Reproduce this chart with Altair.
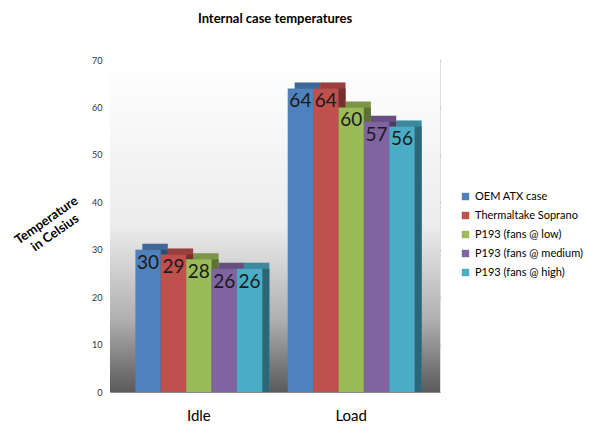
import altair as alt
import pandas as pd

categories = ["Idle", "Load"]
series = ["OEM ATX case", "Thermaltake Soprano", "P193 (fans @ low)",
          "P193 (fans @ medium)", "P193 (fans @ high)"]
idle_values = [30, 29, 28, 26, 26]
load_values = [64, 64, 60, 57, 56]
colors = ["#4F81BD", "#C0504D", "#9BBB59", "#8064A2", "#4BACC6"]
y_ticks = [0, 10, 20, 30, 40, 50, 60, 70]

rows = []
for cat, vals in zip(categories, [idle_values, load_values]):
    for s, v in zip(series, vals):
        rows.append({"category": cat, "series": s, "value": v,
                     "slot": f"{cat}|{s}"})
df = pd.DataFrame(rows)

# band domain: the five bars of each group, with one empty slot between groups
slot_domain = [f"{categories[0]}|{s}" for s in series] + ["gap"] + \
              [f"{categories[1]}|{s}" for s in series]
middle = series[2]

FONT = "Lato"

x_enc = alt.X("slot:N",
              scale=alt.Scale(domain=slot_domain, paddingInner=0, paddingOuter=1),
              axis=alt.Axis(title=None, labelAngle=0, labelFontSize=15,
                            labelPadding=16, ticks=False, domain=False,
                            labelColor="#000000", labelFont=FONT,
                            labelOverlap=False,
                            labelExpr=f"indexof(datum.value, '{middle}') >= 0 ? "
                                      "split(datum.value, '|')[0] : ''"))
y_enc = alt.Y("value:Q", scale=alt.Scale(domain=[0, 70]),
              axis=alt.Axis(values=y_ticks, title=["Temperature", "in Celsius"],
                            titleAngle=325, titleX=-64, titleY=160,
                            titleAlign="center", titleBaseline="middle",
                            titleFontSize=13, titleFont=FONT, titleFontWeight="bold",
                            titleColor="#000000", titleLineHeight=15,
                            labelFontSize=9, labelColor="#333333", labelPadding=8,
                            labelFont=FONT, ticks=False, domain=False,
                            grid=True, gridColor="#8a8a8a", gridWidth=1))
color_enc = alt.Color("series:N", sort=series,
                      scale=alt.Scale(domain=series, range=colors),
                      legend=alt.Legend(title=None, orient="none", legendX=350, legendY=131,
                                        symbolType="square", symbolSize=55,
                                        labelFontSize=11, labelFont=FONT,
                                        labelColor="#000000", rowPadding=7,
                                        symbolStrokeWidth=0))

wall_gradient = alt.LinearGradient(
    gradient="linear", x1=0, y1=0, x2=0, y2=1,
    stops=[alt.GradientStop(offset=0, color="#ffffff"),
           alt.GradientStop(offset=0.5, color="#ececec"),
           alt.GradientStop(offset=0.78, color="#b0b0b0"),
           alt.GradientStop(offset=1, color="#5a5a5a")])

wall = alt.Chart(pd.DataFrame({"w": [0]})).mark_rect(fill=wall_gradient).encode(
    x=alt.value(0), x2=alt.value("width"), y=alt.value(0), y2=alt.value("height"))

base = alt.Chart(df).encode(x=x_enc, y=y_enc)

top = base.mark_bar(xOffset=7, yOffset=-6).encode(color=color_enc)
top_shade = base.mark_bar(xOffset=7, yOffset=-6, color="#000000", opacity=0.2)
side = base.mark_bar(xOffset=7, yOffset=0).encode(color=color_enc)
side_shade = base.mark_bar(xOffset=7, yOffset=0, color="#000000", opacity=0.4)
front = base.mark_bar().encode(color=color_enc)
labels = base.mark_text(baseline="top", dy=4, fontSize=19, font=FONT,
                        color="#1a1a1a").encode(text="value:Q")

chart = alt.layer(wall, top, top_shade, side, side_shade, front, labels).properties(
    width=330, height=332,
    title=alt.TitleParams("Internal case temperatures", fontSize=13, font=FONT,
                          fontWeight="bold", color="#000000", offset=30),
    autosize=alt.AutoSizeParams(type="none"),
    padding={"left": 102, "top": 52, "right": 152, "bottom": 43},
).configure_view(stroke=None).configure(background="#ffffff")

chart.save("out.html", embed_options={"renderer": "svg", "actions": False})
